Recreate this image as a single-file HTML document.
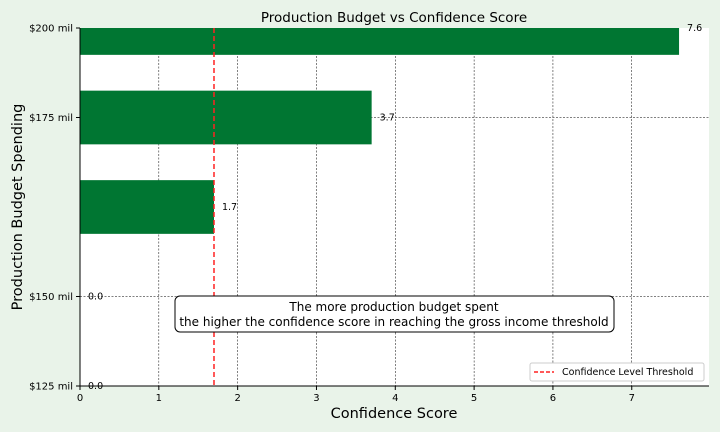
<!DOCTYPE html>
<html><head><meta charset="utf-8"><style>
body{margin:0;background:#e9f3e9;}
svg{display:block;font-family:"DejaVu Sans","Liberation Sans",sans-serif;}
</style></head><body>
<svg id="chart" width="720" height="432">
<rect x="80" y="28" width="629" height="358" fill="#fff"/>
<g id="grid"></g><g id="bars"></g><g id="axes"></g>
<text x="394" y="22" text-anchor="middle" font-size="13.5">Production Budget vs Confidence Score</text>
<text x="394" y="418" text-anchor="middle" font-size="14.5">Confidence Score</text>
<text transform="translate(22,207) rotate(-90)" text-anchor="middle" font-size="14.5">Production Budget Spending</text>
<g>
<rect x="175" y="296" width="439" height="36" rx="5" fill="#fff" stroke="#000" stroke-width="1"/>
<text x="394" y="311" text-anchor="middle" font-size="12">The more production budget spent</text>
<text x="394" y="326" text-anchor="middle" font-size="12">the higher the confidence score in reaching the gross income threshold</text>
</g>
<g>
<rect x="530" y="363" width="174" height="18" rx="2" fill="#fff" stroke="#ccc"/>
<line x1="534" y1="372" x2="554" y2="372" stroke="#f22" stroke-width="1.5" stroke-dasharray="4,2"/>
<text x="562" y="375" font-size="9.5">Confidence Level Threshold</text>
</g>
</svg>
<script>
const categories=["$125 mil","$150 mil","","$175 mil","$200 mil"];
const scores=[0.0,0.0,1.7,3.7,7.6];
const xTicks=[0,1,2,3,4,5,6,7];
const threshold=[1.7];
const ns="http://www.w3.org/2000/svg";
const L=80,R=709,T=28,B=386,xmax=7.98;
const xs=v=>L+v/xmax*(R-L);
const ys=i=>B-i*(B-T)/(categories.length-1);
const bh=0.6*(B-T)/(categories.length-1);
function mk(p,tag,a){const e=document.createElementNS(ns,tag);for(const k in a)e.setAttribute(k,a[k]);document.getElementById(p).appendChild(e);return e;}
xTicks.forEach(t=>{
 const g=mk('grid','line',{x1:xs(t),x2:xs(t),y1:T,y2:B,stroke:'#000','stroke-width':0.5,'stroke-dasharray':'2,1.5'});
 
 
 mk('axes','line',{x1:xs(t),x2:xs(t),y1:B,y2:B+4,stroke:'#000'});
 const tx=mk('axes','text',{x:xs(t),y:B+15,'text-anchor':'middle','font-size':'10'});tx.textContent=t;
 
 
});
categories.forEach((c,i)=>{
 if(c!==""){
  if(i>0&&i<categories.length-1){const g=mk('grid','line',{x1:L,x2:R,y1:ys(i),y2:ys(i),stroke:'#000','stroke-width':0.5,'stroke-dasharray':'2,1.5'});
  
  }
  mk('axes','line',{x1:L-4,x2:L,y1:ys(i),y2:ys(i),stroke:'#000'});
  const tx=mk('axes','text',{x:L-7,y:ys(i)+3.5,'text-anchor':'end','font-size':'10'});tx.textContent=c;
  
  
 }
 const y0=Math.max(T,ys(i)-bh/2),y1=Math.min(B,ys(i)+bh/2);
 const r=mk('bars','rect',{x:L,y:y0,width:xs(scores[i])-L,height:y1-y0,fill:'#007632'});
 
 
 const lb=mk('bars','text',{x:xs(scores[i])+8,y:ys(i)+3,'font-size':'9.5'});lb.textContent=scores[i].toFixed(1);
 
 
});
const th=mk('bars','line',{x1:xs(threshold[0]),x2:xs(threshold[0]),y1:T,y2:B,stroke:'#f22','stroke-width':1.5,'stroke-dasharray':'5,3'});


mk('axes','line',{x1:L,x2:L,y1:T,y2:B,stroke:'#000'});
mk('axes','line',{x1:L,x2:R,y1:B,y2:B,stroke:'#000'});
</script>
</body></html>
